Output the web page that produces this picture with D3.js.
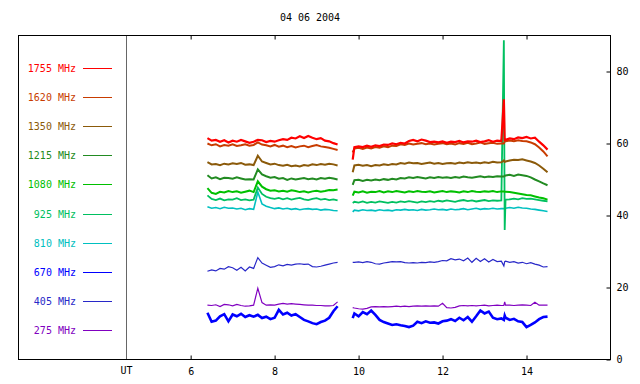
<!DOCTYPE html>
<html>
<head>
<meta charset="utf-8">
<script src="https://cdn.jsdelivr.net/npm/d3@7"></script>
<style>
  html, body { margin: 0; padding: 0; background: #fff; }
  text { font-family: "DejaVu Sans Mono", monospace; }
</style>
</head>
<body>
<svg id="chart" width="640" height="384"></svg>
<script>
// ---------- data ----------
const title = "04 06 2004";
const xTicks = [6, 8, 10, 12, 14];
const yTicks = [0, 20, 40, 60, 80];
const utHour = 4.45;

const frequencies = ["1755 MHz", "1620 MHz", "1350 MHz", "1215 MHz", "1080 MHz",
                     "925 MHz", "810 MHz", "670 MHz", "405 MHz", "275 MHz"];
const colors = ["#ff0000", "#c83c00", "#8b5a0a", "#228b22", "#00c000",
                "#00c060", "#00c0c0", "#0000ff", "#2828c8", "#8000c0"];

// time stamps (UT hours) of the two observing segments
const times1 = [6.4, 6.5, 6.6, 6.7, 6.8, 6.9, 7.0, 7.1, 7.2, 7.3, 7.4, 7.5, 7.6, 7.7, 7.8, 7.9,
                8.0, 8.1, 8.2, 8.3, 8.4, 8.5, 8.6, 8.7, 8.8, 8.9, 9.0, 9.1, 9.2, 9.3, 9.4, 9.5];
const times2 = [9.86, 9.9, 10.0, 10.1, 10.2, 10.3, 10.4, 10.5, 10.6, 10.7, 10.8, 10.9, 11.0, 11.1,
                11.2, 11.3, 11.4, 11.5, 11.6, 11.7, 11.8, 11.9, 12.0, 12.1, 12.2, 12.3, 12.4, 12.5,
                12.6, 12.7, 12.8, 12.9, 13.0, 13.1, 13.2, 13.3, 13.4, 13.46, 13.48, 13.5, 13.6,
                13.7, 13.8, 13.9, 14.0, 14.1, 14.2, 14.3, 14.4, 14.5];

// segment 1 values (32 each)
const s1755a = [61.5,60.8,61.0,60.5,60.9,60.3,60.8,60.5,61.0,60.6,60.2,60.5,61.0,60.9,60.4,60.7,60.5,60.9,61.2,61.0,61.6,61.4,62.0,61.5,62.1,61.6,61.2,61.5,60.8,60.6,60.1,59.7];
const s1620a = [60.0,59.5,59.8,59.2,59.6,59.4,59.8,59.3,59.5,59.8,59.4,59.6,60.3,59.7,59.5,59.2,59.6,59.1,59.4,59.0,59.3,58.9,59.2,59.4,59.0,59.3,59.6,59.2,59.0,58.8,58.5,58.2];
const s1350a = [54.8,54.2,54.3,54.0,54.4,54.2,54.5,54.3,54.6,54.1,54.2,54.0,56.6,55.0,54.6,54.2,54.4,54.0,53.8,54.1,53.7,53.9,53.6,54.0,53.8,54.2,54.0,54.3,54.1,54.4,54.2,53.9];
const s1215a = [51.2,50.3,50.6,50.1,50.5,50.4,50.2,50.6,50.3,50.0,50.1,50.0,52.8,51.4,50.9,50.5,50.7,50.2,50.4,49.9,50.3,50.0,50.2,50.4,50.1,50.3,50.0,50.4,50.2,50.5,50.3,50.0];
const s1080a = [47.6,46.3,46.0,46.6,46.4,46.8,46.5,46.7,46.3,46.6,46.9,46.5,49.5,48.0,47.3,46.9,47.0,46.7,46.9,46.6,47.0,46.8,46.5,46.7,46.4,46.7,46.9,46.6,46.8,47.1,47.0,47.2];
const s925a  = [45.6,44.6,44.3,44.7,44.2,44.5,44.4,44.8,44.3,44.5,44.2,44.4,47.8,46.0,45.2,44.8,44.6,44.9,44.5,44.8,44.4,44.7,44.9,44.5,44.3,44.6,44.8,44.4,44.6,44.3,44.5,44.2];
const s810a  = [42.4,42.0,42.2,41.9,42.3,42.0,42.1,41.8,42.0,41.6,41.9,41.7,46.5,43.2,42.6,42.2,41.9,42.1,41.8,42.0,41.7,41.9,41.6,41.8,41.9,41.7,41.8,41.5,41.7,41.6,41.4,41.3];
const s670a  = [13.0,10.5,10.8,12.0,12.6,10.6,12.5,12.0,12.7,11.8,12.3,11.9,12.4,11.5,11.9,11.2,11.6,13.8,12.5,13.0,12.2,12.6,11.8,11.0,10.6,10.1,9.8,10.4,10.8,11.6,13.4,14.8];
const s405a  = [24.5,24.9,24.6,25.3,25.1,25.8,25.5,24.8,25.6,24.6,25.7,25.3,28.3,26.8,26.2,25.6,25.8,26.3,26.0,26.4,26.2,26.5,26.6,26.4,26.5,25.8,25.7,25.9,26.2,26.5,26.8,27.0];
const s275a  = [15.1,15.0,15.2,14.7,15.3,15.2,14.9,15.3,15.0,14.8,14.9,15.1,19.8,15.8,15.1,15.2,15.1,15.4,15.6,15.4,15.5,15.4,15.3,15.2,15.1,15.1,15.0,15.0,14.9,14.9,15.0,16.0];

// segment 2 values (50 each)
const s1755b = [55.5,59.0,59.2,59.0,59.4,59.1,59.5,59.3,59.7,59.6,60.0,59.8,60.2,60.0,60.7,61.0,60.6,61.1,60.8,60.4,60.5,60.3,60.6,60.2,60.5,60.4,60.7,60.3,60.6,60.5,60.8,60.4,60.6,60.9,60.5,60.8,60.7,72.3,61.0,61.0,61.4,61.2,61.7,61.5,61.8,61.4,61.6,60.5,59.5,58.3];
const s1620b = [57.5,58.6,58.8,58.5,58.9,58.6,59.0,58.8,59.2,59.0,59.4,59.3,59.8,59.6,60.0,59.7,59.9,60.1,59.8,60.0,59.7,59.9,60.1,59.8,60.0,59.7,60.1,59.9,60.2,59.8,60.0,60.3,59.9,60.1,60.2,59.9,60.0,60.0,60.5,60.6,60.8,60.6,60.9,60.7,60.6,60.3,59.8,58.9,57.8,56.4];
const s1350b = [52.0,53.9,54.1,53.8,54.0,53.7,54.0,53.9,54.2,54.0,54.3,54.2,54.6,54.4,54.7,54.5,54.6,54.3,54.5,54.7,54.4,54.6,54.3,54.5,54.6,54.4,54.7,54.5,54.8,54.6,54.7,54.5,54.8,54.6,54.9,54.7,54.8,55.3,54.9,55.0,55.3,55.5,55.4,55.6,55.3,55.0,54.6,53.9,53.0,52.0];
const s1215b = [48.5,49.8,49.9,49.6,49.9,49.7,50.0,49.8,50.1,49.9,50.2,50.0,50.4,50.3,50.6,50.4,50.7,50.5,50.3,50.6,50.4,50.7,50.5,50.6,50.4,50.7,50.5,50.8,50.6,50.5,50.7,50.9,50.6,50.8,50.7,50.9,50.8,50.8,51.0,51.1,51.3,51.0,51.4,51.2,51.0,50.6,50.0,49.5,48.9,48.4];
const s1080b = [45.5,46.6,46.4,46.7,46.3,46.6,46.5,46.8,46.4,46.7,46.5,46.8,46.6,46.4,46.7,46.5,46.8,46.6,46.5,46.7,46.4,46.6,46.8,46.5,46.7,46.6,46.4,46.7,46.5,46.8,46.6,46.5,46.7,46.6,46.8,46.5,46.7,46.7,46.6,46.6,46.5,46.3,46.1,45.9,45.7,45.6,45.3,45.0,44.8,44.4];
const s925b  = [43.5,43.8,43.6,43.9,43.5,43.8,43.6,43.9,43.7,43.5,43.8,43.6,43.9,43.7,44.0,43.8,43.6,43.9,43.7,44.0,43.8,44.1,43.9,44.2,44.0,43.8,44.1,44.3,44.0,44.2,43.9,44.1,44.3,44.0,44.2,44.1,44.2,88.7,36.0,44.4,44.5,44.7,44.5,44.8,44.6,44.7,44.5,44.3,44.1,43.9];
const s810b  = [41.0,41.5,41.3,41.6,41.4,41.5,41.3,41.6,41.4,41.5,41.3,41.6,41.5,41.7,41.5,41.6,41.4,41.7,41.5,41.6,41.8,41.6,41.7,41.5,41.8,41.6,41.7,41.9,41.6,41.8,42.0,41.7,41.9,41.8,42.0,41.8,41.9,41.9,41.9,42.0,42.2,42.0,42.3,42.1,42.0,41.8,41.7,41.5,41.3,41.1];
const s670b  = [11.5,12.8,12.0,13.2,12.6,13.6,12.4,11.0,10.4,10.0,9.6,9.8,9.5,9.3,9.0,9.4,10.5,10.1,10.6,10.2,10.3,10.0,10.6,10.8,11.2,10.7,11.6,10.9,11.8,10.5,12.0,13.6,12.8,13.3,11.6,11.2,11.4,11.0,12.2,11.6,11.0,11.3,10.6,10.4,9.0,9.6,10.3,11.2,11.8,11.9];
const s405b  = [27.0,27.0,27.1,26.9,27.2,27.0,26.6,26.5,26.8,27.0,27.2,27.1,27.2,26.9,26.8,26.9,26.8,27.0,26.9,27.1,27.0,27.2,27.5,27.4,28.0,27.7,27.9,27.4,28.2,27.0,28.1,27.2,28.0,27.1,27.8,27.2,27.3,26.0,27.2,27.3,27.0,27.2,26.8,27.0,26.6,26.9,26.5,26.2,25.7,25.8];
const s275b  = [14.4,14.3,14.1,14.0,14.2,14.6,14.7,14.6,14.7,14.6,14.7,14.8,14.7,14.8,14.7,14.8,14.9,14.8,14.9,14.8,14.9,14.8,15.6,14.4,14.3,14.5,14.9,15.0,14.9,15.0,14.9,15.0,15.1,14.9,15.0,15.1,15.0,15.0,16.0,15.1,15.1,15.0,15.1,15.2,15.1,15.0,15.9,15.1,15.1,15.1];

const seg1 = [s1755a, s1620a, s1350a, s1215a, s1080a, s925a, s810a, s670a, s405a, s275a];
const seg2 = [s1755b, s1620b, s1350b, s1215b, s1080b, s925b, s810b, s670b, s405b, s275b];

// ---------- drawing ----------
const svg = d3.select("#chart");
const pLeft = 18.5, pRight = 610.5, pTop = 35.5, pBottom = 359.5;
const widths = [2.2, 2.0, 2.0, 2.0, 2.0, 1.8, 1.6, 2.6, 1.2, 1.2];

const x = d3.scaleLinear().domain([1.9, 16]).range([pLeft, pRight]);
const y = d3.scaleLinear().domain([0, 90]).range([pBottom, pTop]);

// title
svg.append("text")
  .attr("x", 310).attr("y", 21)
  .attr("text-anchor", "middle")
  .attr("font-size", 10)
  .attr("fill", "#000")
  .text(title);

// UT separator line
const utX = Math.round(x(utHour)) + 0.5;
svg.append("line")
  .attr("x1", utX).attr("x2", utX)
  .attr("y1", pTop).attr("y2", pBottom)
  .attr("stroke", "#666").attr("stroke-width", 1);

// axes
const axB = svg.append("g").attr("transform", `translate(0,${pBottom})`)
  .call(d3.axisBottom(x).tickValues(xTicks).tickSizeInner(-4).tickSizeOuter(0).tickPadding(8).tickFormat(d3.format("d")));
const axT = svg.append("g").attr("transform", `translate(0,${pTop})`)
  .call(d3.axisTop(x).tickValues(xTicks).tickSizeInner(-4).tickSizeOuter(0).tickFormat(""));
const axR = svg.append("g").attr("transform", `translate(${pRight},0)`)
  .call(d3.axisRight(y).tickValues(yTicks).tickSizeInner(-4).tickSizeOuter(0).tickPadding(6).tickFormat(d3.format("d")));
[axB, axT, axR].forEach(g => {
  g.select(".domain").remove();
  g.selectAll("text").attr("font-family", "DejaVu Sans Mono, monospace").attr("font-size", 10).attr("fill", "#000");
  g.selectAll("line").attr("stroke", "#000");
});

// UT label
svg.append("text")
  .attr("x", utX).attr("y", 374)
  .attr("text-anchor", "middle")
  .attr("font-size", 10).attr("fill", "#000")
  .text("UT");

// frame
svg.append("rect")
  .attr("x", pLeft).attr("y", pTop)
  .attr("width", pRight - pLeft).attr("height", pBottom - pTop)
  .attr("fill", "none").attr("stroke", "#000").attr("stroke-width", 1);

// legend
const legendY0 = 67.5, legendStep = 29.2;
frequencies.forEach((f, i) => {
  const ly = Math.round(legendY0 + i * legendStep) + 0.5;
  svg.append("text")
    .attr("x", 76).attr("y", ly + 3.5)
    .attr("text-anchor", "end")
    .attr("font-size", 10)
    .attr("fill", colors[i])
    .text(f);
  svg.append("line")
    .attr("x1", 83).attr("x2", 112)
    .attr("y1", ly).attr("y2", ly)
    .attr("stroke", colors[i]).attr("stroke-width", 1);
});

// series lines
const line = d3.line().x(d => x(d[0])).y(d => y(d[1]));
const plot = svg.append("g");
for (let i = frequencies.length - 1; i >= 0; i--) {
  const a = times1.map((t, k) => [t, seg1[i][k]]);
  const b = times2.map((t, k) => [t, seg2[i][k]]);
  [a, b].forEach(pts => {
    plot.append("path")
      .attr("d", line(pts))
      .attr("fill", "none")
      .attr("stroke", colors[i])
      .attr("stroke-width", widths[i])
      .attr("stroke-linejoin", "miter");
  });
}
</script>
</body>
</html>
